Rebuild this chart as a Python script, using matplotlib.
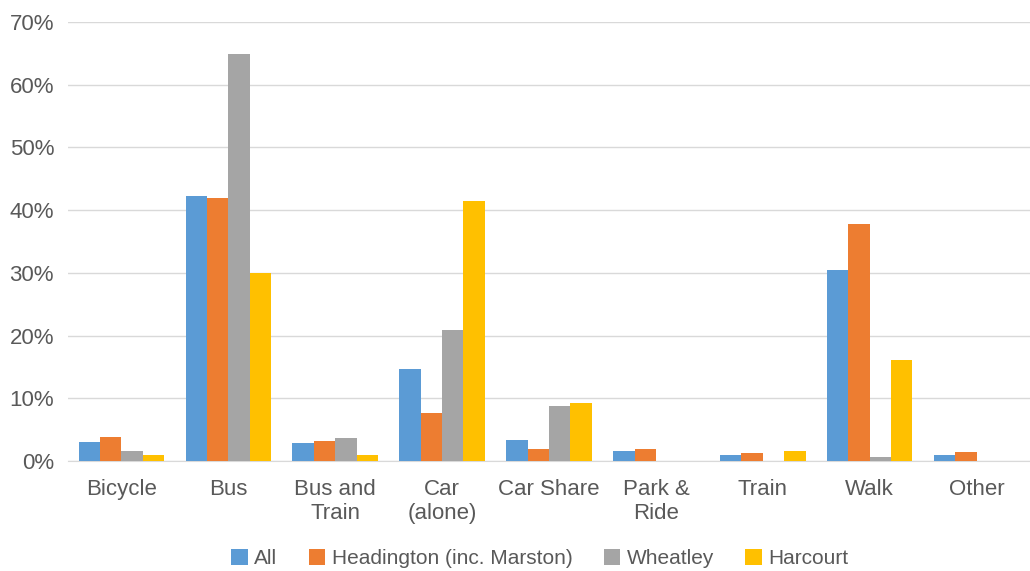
import matplotlib
matplotlib.use("Agg")
import matplotlib.pyplot as plt
import numpy as np
from matplotlib.ticker import FuncFormatter

categories = ["Bicycle", "Bus", "Bus and\nTrain", "Car\n(alone)", "Car Share",
              "Park &\nRide", "Train", "Walk", "Other"]
series_names = ["All", "Headington (inc. Marston)", "Wheatley", "Harcourt"]
all_vals = [3.1, 42.3, 2.9, 14.7, 3.3, 1.6, 1.0, 30.5, 1.0]
headington = [3.8, 41.9, 3.2, 7.6, 1.9, 1.9, 1.3, 37.8, 1.5]
wheatley = [1.6, 64.9, 3.7, 20.9, 8.7, 0.0, 0.0, 0.7, 0.0]
harcourt = [0.9, 30.0, 0.9, 41.5, 9.3, 0.0, 1.6, 16.1, 0.0]
y_ticks = [0, 10, 20, 30, 40, 50, 60, 70]

colors = ["#5B9BD5", "#ED7D31", "#A5A5A5", "#FFC000"]
text_color = "#595959"

plt.rcParams['font.family'] = ['Liberation Sans', 'DejaVu Sans']

fig = plt.figure(figsize=(10.30, 5.71), dpi=100)
ax = fig.add_axes([0.066, 0.1926, 0.934, 0.769])

x = np.arange(len(categories))
w = 0.2
data = [all_vals, headington, wheatley, harcourt]
for i, (vals, name, c) in enumerate(zip(data, series_names, colors)):
    ax.bar(x + (i - 1.5) * w, vals, width=w, color=c, label=name, zorder=3)

ax.set_xlim(-0.5, len(categories) - 0.5)
ax.set_ylim(0, 70)
ax.set_yticks(y_ticks)
ax.yaxis.set_major_formatter(FuncFormatter(lambda v, p: f"{int(v)}%"))
ax.set_xticks(x)
ax.set_xticklabels(categories, linespacing=1.2)
ax.grid(axis='y', color="#D9D9D9", linewidth=1, zorder=0)
for s in ["top", "right", "left"]:
    ax.spines[s].set_visible(False)
ax.spines["bottom"].set_color("#D9D9D9")
ax.tick_params(axis='both', length=0, labelsize=16, colors=text_color)
ax.tick_params(axis='x', pad=13)
ax.tick_params(axis='y', pad=10)

fig.legend(loc='center', bbox_to_anchor=(0.524, 0.022), ncol=4, frameon=False,
           fontsize=15, labelcolor=text_color, handlelength=0.8, handleheight=0.8,
           handletextpad=0.3, columnspacing=1.5)

fig.savefig("out.png", dpi=100)
